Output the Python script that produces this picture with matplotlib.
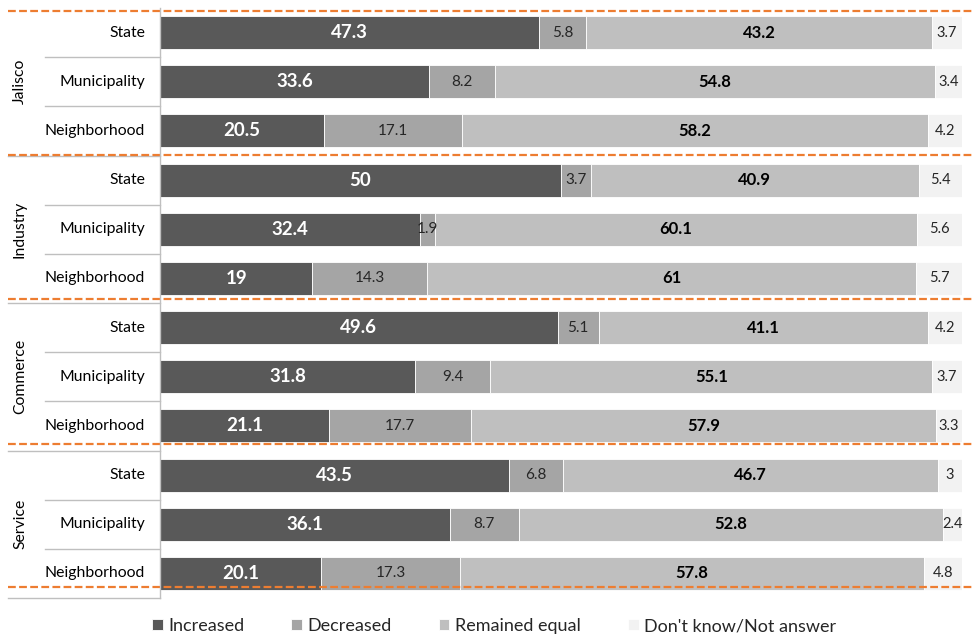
import matplotlib

matplotlib.use("Agg")
import matplotlib.pyplot as plt
from matplotlib.transforms import blended_transform_factory
import numpy as np

plt.rcParams["font.family"] = ["Lato", "DejaVu Sans"]

GROUPS = ["Jalisco", "Industry", "Commerce", "Service"]
LEVELS = ["State", "Municipality", "Neighborhood"]
SERIES = ["Increased", "Decreased", "Remained equal", "Don't know/Not answer"]

# rows: State, Municipality, Neighborhood for each group, top to bottom
increased = [47.3, 33.6, 20.5, 50, 32.4, 19, 49.6, 31.8, 21.1, 43.5, 36.1, 20.1]
decreased = [5.8, 8.2, 17.1, 3.7, 1.9, 14.3, 5.1, 9.4, 17.7, 6.8, 8.7, 17.3]
remained = [43.2, 54.8, 58.2, 40.9, 60.1, 61, 41.1, 55.1, 57.9, 46.7, 52.8, 57.8]
dont_know = [3.7, 3.4, 4.2, 5.4, 5.6, 5.7, 4.2, 3.7, 3.3, 3, 2.4, 4.8]

COLORS = ["#595959", "#a5a5a5", "#bfbfbf", "#f2f2f2"]
LABEL_STYLE = [("white", "bold", 13.5), ("#262626", "normal", 11),
               ("black", "bold", 12), ("#262626", "normal", 10.5)]

W, H = 972, 641
fig = plt.figure(figsize=(W / 100, H / 100), dpi=100)
ax = fig.add_axes([160 / W, 43 / H, 802 / W, 590 / H])

n = len(increased)
y = np.arange(n)
left = np.zeros(n)
for vals, col, name, (tc, fw, fs) in zip(
        [increased, decreased, remained, dont_know], COLORS, SERIES, LABEL_STYLE):
    vals = np.array(vals, dtype=float)
    ax.barh(y, vals, left=left, height=0.67, color=col, edgecolor="white",
            linewidth=0.6, label=name)
    for yi, l, v in zip(y, left, vals):
        txt = f"{v:g}"
        ax.text(l + v / 2, yi, txt, ha="center", va="center", color=tc,
                fontweight=fw, fontsize=fs)
    left += vals

ax.set_xlim(0, 100)
ax.set_ylim(n - 0.5, -0.5)
ax.set_xticks([])
ax.set_yticks([])
for s in ["top", "right", "bottom"]:
    ax.spines[s].set_visible(False)
ax.spines["left"].set_color("#bfbfbf")
ax.spines["left"].set_linewidth(1.0)

# hierarchical category labels
tr = blended_transform_factory(ax.transAxes, ax.transData)
x_sub = (145 - 160) / 802
x_grp = (20 - 160) / 802
x_line_sub = (45 - 160) / 802
x_line_grp = (8 - 160) / 802
for gi, g in enumerate(GROUPS):
    for li, lv in enumerate(LEVELS):
        row = gi * 3 + li
        ax.text(x_sub, row, lv, transform=tr, ha="right", va="center",
                fontsize=11.3, color="black")
        if li < 2:
            ax.plot([x_line_sub, 0], [row + 0.5] * 2, transform=tr,
                    color="#bfbfbf", lw=1, clip_on=False)
    ax.text(x_grp, gi * 3 + 1, g, transform=tr, ha="center", va="center",
            rotation=90, fontsize=11.3, color="black")
    ax.plot([x_line_grp, 0], [gi * 3 + 2.5] * 2, transform=tr,
            color="#bfbfbf", lw=1, clip_on=False)

# orange dashed group dividers
for yd in [-0.44, 2.49, 5.42, 8.37, 11.28]:
    ax.plot([x_line_grp, 1.0125], [yd, yd], transform=tr, color="#ed7d31",
            lw=1.6, linestyle=(0, (3.5, 1.5)), clip_on=False)

leg = fig.legend(loc="center", bbox_to_anchor=(494 / W, 1 - 626 / H), ncol=4,
                 frameon=False, fontsize=13, handlelength=0.6, handleheight=0.6,
                 handletextpad=0.3, columnspacing=2.6)
for t in leg.get_texts():
    t.set_color("#262626")

fig.savefig("out.png", dpi=100)
